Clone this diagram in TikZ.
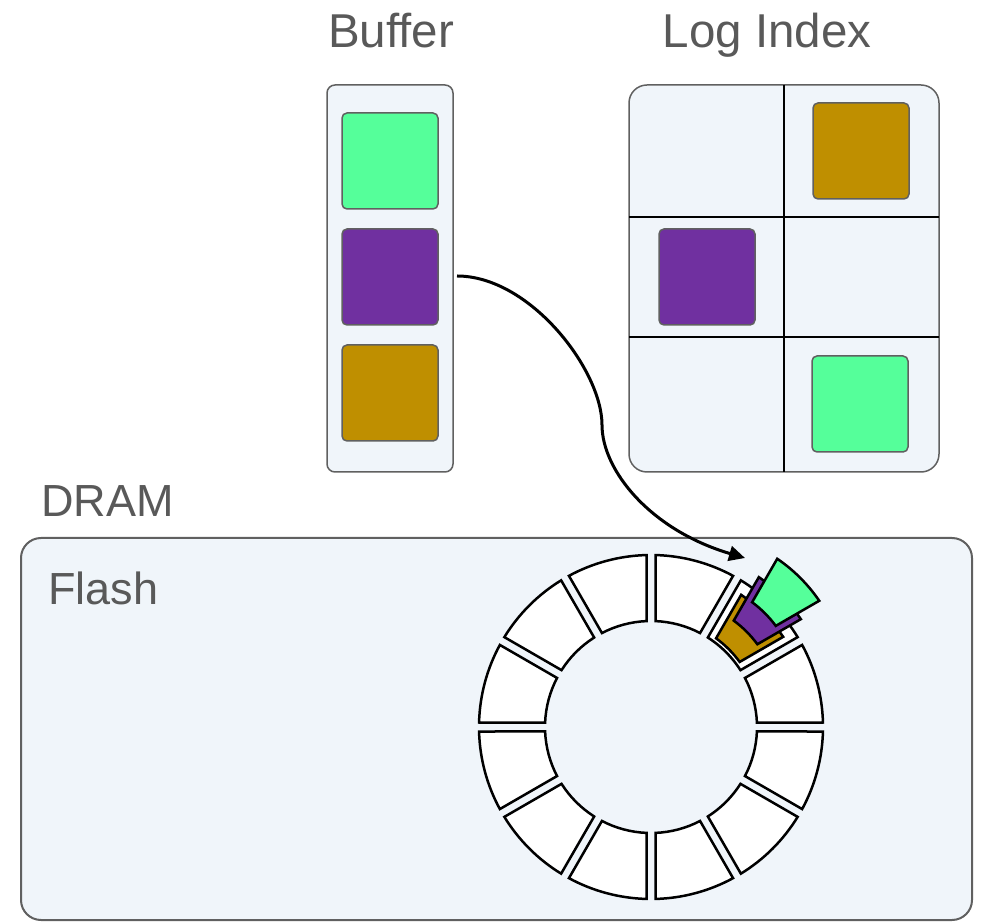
\documentclass[tikz,border=0pt]{standalone}
\usepackage{fontspec}
\setmainfont{Liberation Sans}
\usetikzlibrary{arrows.meta}
\definecolor{bgblue}{HTML}{F0F5FA}
\definecolor{edgegray}{HTML}{606060}
\definecolor{txtgray}{HTML}{595959}
\definecolor{cgreen}{HTML}{55FF9A}
\definecolor{cpurple}{HTML}{7030A0}
\definecolor{corange}{HTML}{BF8F00}
\begin{document}
\begin{tikzpicture}[x=1pt,y=1pt,
  panel/.style={draw=edgegray, fill=bgblue, line width=1.5pt, inner sep=0pt, outer sep=0pt},
  block/.style={draw=edgegray, line width=1.5pt, rounded corners=5pt, minimum width=96pt, minimum height=96pt, inner sep=0pt, outer sep=0pt},
  title/.style={font=\fontsize{47.5}{50}\selectfont, text=txtgray, inner sep=0pt, anchor=base},
  label/.style={font=\fontsize{45}{48}\selectfont, text=txtgray, inner sep=0pt, anchor=base west},
  seg/.style={draw=black, line width=2.5pt, fill=white, line join=miter},
  gridline/.style={draw=black, line width=1.2pt},
  flow/.style={draw=black, line width=3pt, -{Triangle[length=16pt,width=15pt]}}
]
\useasboundingbox (0,0) rectangle (984,921);

% Flash (DRAM) panel
\node[panel, line width=2pt, rounded corners=20pt, minimum width=951pt, minimum height=382pt] (flash) at (496.5,192) {};
\node[label] (dram) at (41,404) {DRAM};
\node[label] (flashlbl) at (48,316) {Flash};

% Buffer
\node[title] (buftitle) at (391,873) {Buffer};
\node[panel, rounded corners=8pt, minimum width=126pt, minimum height=387pt] (buf) at (390,642.5) {};
\node[block, fill=cgreen] (bufG) at (390,760) {};
\node[block, fill=cpurple] (bufP) at (390,644) {};
\node[block, fill=corange] (bufO) at (390,528) {};

% Log Index
\node[title] (logtitle) at (767,873) {Log Index};
\node[panel, rounded corners=18pt, minimum width=310pt, minimum height=387pt] (log) at (784,642.5) {};
\draw[gridline] (log.north) -- (log.south);
\draw[gridline] (629,704) -- (939,704);
\draw[gridline] (629,584) -- (939,584);
\node[block, fill=corange] (logO) at (861,770) {};
\node[block, fill=cpurple] (logP) at (707,644) {};
\node[block, fill=cgreen] (logG) at (860,517) {};

% Ring
\begin{scope}[shift={(651,194)}]
  \foreach \a in {0,30,...,330} {
    \pgfmathsetmacro\ai{\a+2.43}
    \pgfmathsetmacro\ao{\a+1.5}
    \pgfmathsetmacro\bo{\a+30-1.5}
    \pgfmathsetmacro\bi{\a+30-2.43}
    \draw[seg] (\ai:106pt) -- (\ao:172pt) arc[start angle=\ao, end angle=\bo, radius=172pt]
      -- (\bi:106pt) arc[start angle=\bi, end angle=\ai, radius=106pt] -- cycle;
  }
  \foreach \d/\c in {0/corange, 25/cpurple, 51/cgreen} {
    \begin{scope}[shift={(45:\d pt)}]
      \draw[seg, fill=\c] (53.74:110pt) -- (55.7:160pt) arc[start angle=55.7, end angle=34.3, radius=160pt]
        -- (36.26:110pt) arc[start angle=36.26, end angle=53.74, radius=110pt] -- cycle;
    \end{scope}
  }
\end{scope}

% Arrow
\coordinate (as) at (457,645);
\coordinate (ae) at (745,363);
\draw[flow] (as) .. controls (530,645) and (602,551) .. (602,496)
  .. controls (602,451) and (650,391) .. (ae);
\end{tikzpicture}
\end{document}
